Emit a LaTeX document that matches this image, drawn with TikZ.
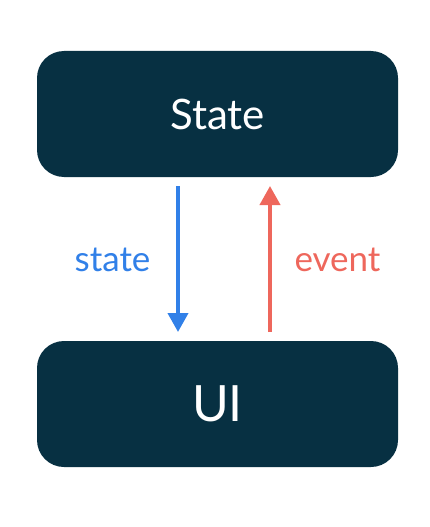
\documentclass[tikz,border=0pt]{standalone}
\usepackage{fontspec}
\setmainfont{Lato}
\usetikzlibrary{arrows.meta}
\definecolor{boxdark}{HTML}{073042}
\definecolor{flowblue}{HTML}{3180E8}
\definecolor{flowred}{HTML}{EE675C}
\begin{document}
\begin{tikzpicture}[x=1pt,y=-1pt,
  blockbox/.style={fill=boxdark, rounded corners=27pt, minimum width=361pt, minimum height=126pt, inner sep=0pt, text=white},
  flow/.style={line width=4pt, -{Triangle[width=20pt,length=19pt]}},
  lbl/.style={inner sep=0pt, anchor=base}]
\useasboundingbox (0,0) rectangle (429,527);
\node[blockbox, font=\fontsize{42}{42}\selectfont] (st) at (217.5,114) {State};
\node[blockbox, font=\fontsize{50}{50}\selectfont] (ui) at (217.5,404) {UI};
\coordinate (bs) at (178,186);
\coordinate (be) at (178,332);
\coordinate (rs) at (270,332);
\coordinate (re) at (270,186);
\draw[flow, flowblue] (bs) -- (be);
\draw[flow, flowred] (rs) -- (re);
\node[lbl, text=flowblue, font=\fontsize{35}{35}\selectfont] (ls) at (112.5,271) {state};
\node[lbl, text=flowred, font=\fontsize{35}{35}\selectfont] (le) at (337.5,271) {event};
\end{tikzpicture}
\end{document}
